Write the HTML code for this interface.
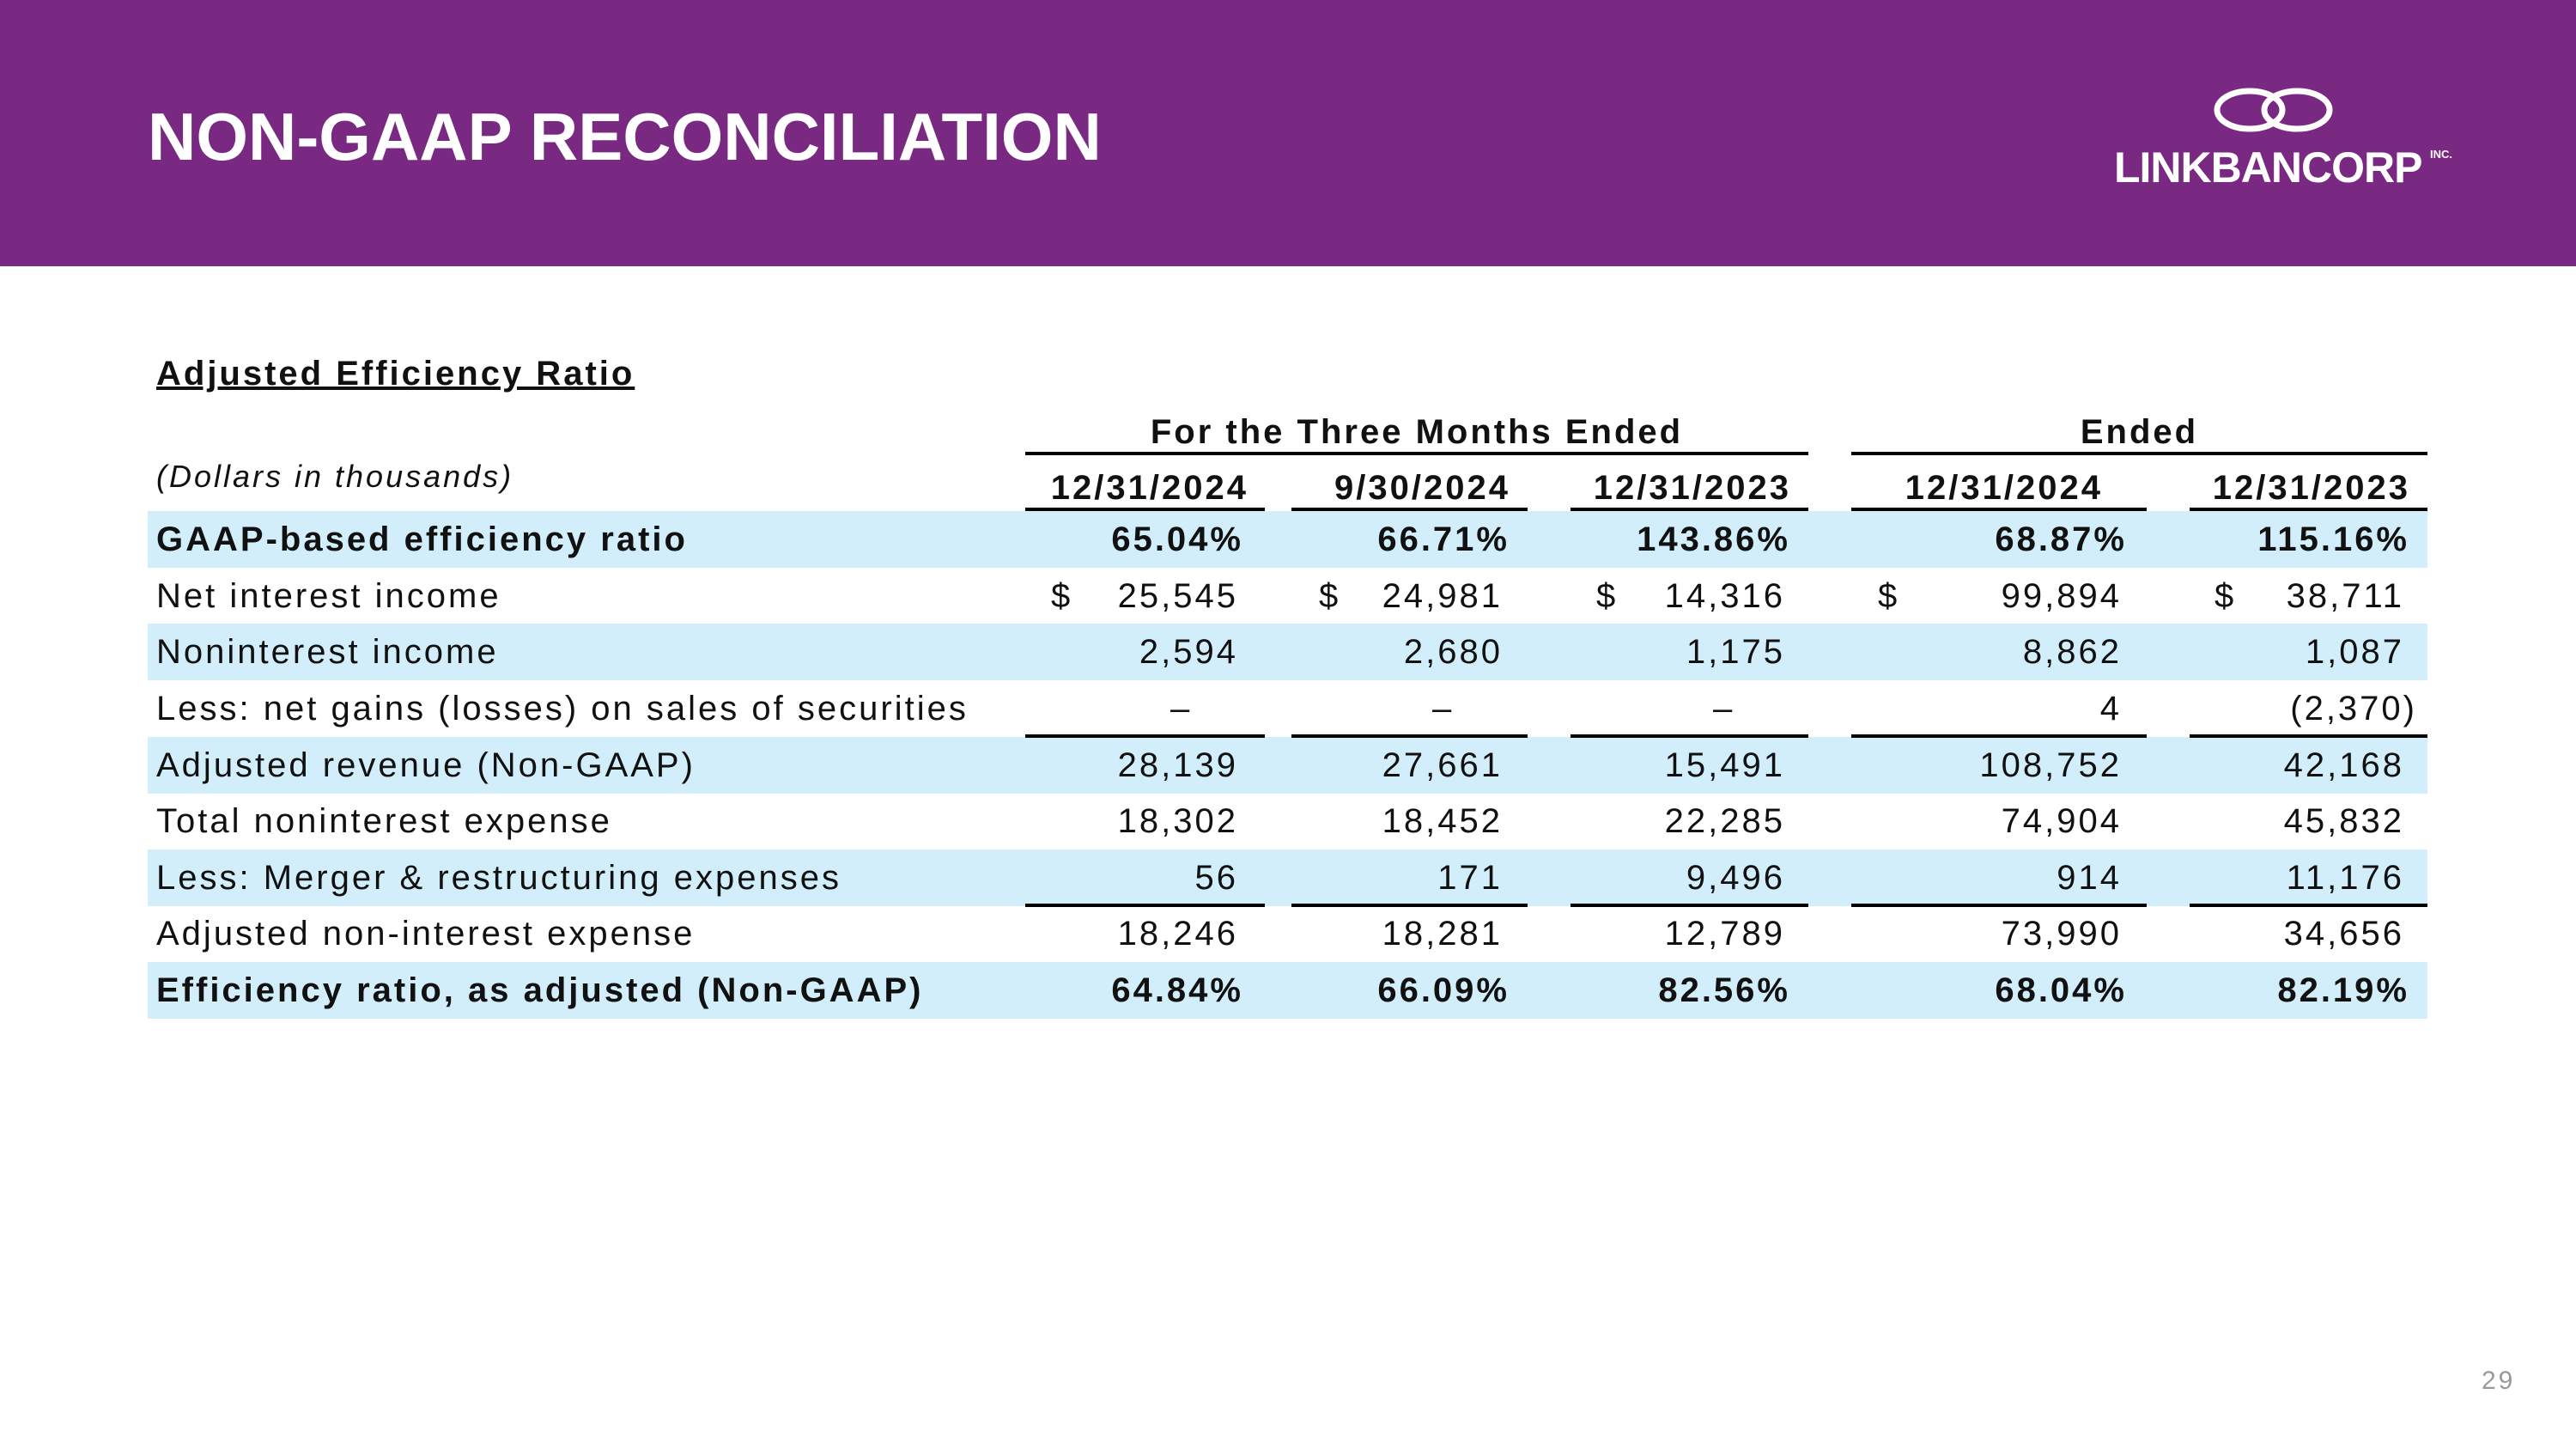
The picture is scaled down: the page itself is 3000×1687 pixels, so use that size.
<!DOCTYPE html>
<html><head><meta charset="utf-8"><style>
body{margin:0;width:3000px;height:1687px;background:#fff;position:relative;overflow:hidden;font-family:"Liberation Sans",Arial,sans-serif;}
.hdr{position:absolute;left:0;top:0;width:3000px;height:310px;background:#7A2982;}
.title{position:absolute;left:172px;top:114px;font-size:78px;font-weight:bold;color:#fff;}
.logo{position:absolute;left:2462px;top:166px;font-size:50px;font-weight:bold;color:#fff;letter-spacing:-1px;}
.inc{position:absolute;left:2830px;top:172px;font-size:13px;font-weight:bold;color:#fff;}
.a{position:absolute;white-space:nowrap;font-size:40px;color:#111;line-height:66px;letter-spacing:3px;}
.r{text-align:right;}
.row{position:absolute;left:172px;width:2655px;height:66px;}
.s{background:#D2EEFB;}
.ln{position:absolute;height:4px;background:#000;}
.b{font-weight:bold;}
</style></head><body>
<div class="hdr"></div>
<div class="title">NON-GAAP RECONCILIATION</div>
<svg style="position:absolute;left:2575px;top:98px" width="145" height="60" viewBox="0 0 145 60">
<g fill="none" stroke="#fff" stroke-width="7">
<ellipse cx="45" cy="30" rx="38" ry="22"/><ellipse cx="100" cy="30" rx="38" ry="22"/></g></svg>
<div class="logo">LINKBANCORP</div><div class="inc">INC.</div>

<div class="a b" style="left:182px;top:402px;text-decoration:underline;">Adjusted Efficiency Ratio</div>
<div class="a b" style="left:1194px;top:470px;width:912px;text-align:center;">For the Three Months Ended</div>
<div class="a b" style="left:2156px;top:470px;width:671px;text-align:center;">Ended</div>
<div class="ln" style="left:1194px;top:526px;width:912px;"></div>
<div class="ln" style="left:2156px;top:526px;width:671px;"></div>
<div class="a" style="left:182px;top:522px;font-style:italic;font-size:36px;">(Dollars in thousands)</div>
<div class="a b r" style="left:1194px;top:535px;width:260px;">12/31/2024</div>
<div class="a b r" style="left:1504px;top:535px;width:255px;">9/30/2024</div>
<div class="a b r" style="left:1829px;top:535px;width:257px;">12/31/2023</div>
<div class="a b r" style="left:2156px;top:535px;width:293px;">12/31/2024</div>
<div class="a b r" style="left:2550px;top:535px;width:257px;">12/31/2023</div>
<div class="ln" style="left:1194px;top:591px;width:279px;"></div>
<div class="ln" style="left:1504px;top:591px;width:275px;"></div>
<div class="ln" style="left:1829px;top:591px;width:277px;"></div>
<div class="ln" style="left:2156px;top:591px;width:344px;"></div>
<div class="ln" style="left:2550px;top:591px;width:277px;"></div>

<div class="row s" style="top:595px"></div>
<div class="row s" style="top:726px"></div>
<div class="row s" style="top:858px"></div>
<div class="row s" style="top:989px"></div>
<div class="row s" style="top:1120px"></div>

<div class="ln" style="left:1194px;top:855px;width:279px;"></div>
<div class="ln" style="left:1504px;top:855px;width:275px;"></div>
<div class="ln" style="left:1829px;top:855px;width:277px;"></div>
<div class="ln" style="left:2156px;top:855px;width:344px;"></div>
<div class="ln" style="left:2550px;top:855px;width:277px;"></div>
<div class="ln" style="left:1194px;top:1052px;width:279px;"></div>
<div class="ln" style="left:1504px;top:1052px;width:275px;"></div>
<div class="ln" style="left:1829px;top:1052px;width:277px;"></div>
<div class="ln" style="left:2156px;top:1052px;width:344px;"></div>
<div class="ln" style="left:2550px;top:1052px;width:277px;"></div>

<div class="a b" style="left:182px;top:595px">GAAP-based efficiency ratio</div>
<div class="a" style="left:182px;top:661px">Net interest income</div>
<div class="a" style="left:182px;top:726px">Noninterest income</div>
<div class="a" style="left:182px;top:792px">Less: net gains (losses) on sales of securities</div>
<div class="a" style="left:182px;top:858px">Adjusted revenue (Non-GAAP)</div>
<div class="a" style="left:182px;top:923px">Total noninterest expense</div>
<div class="a" style="left:182px;top:989px">Less: Merger &amp; restructuring expenses</div>
<div class="a" style="left:182px;top:1054px">Adjusted non-interest expense</div>
<div class="a b" style="left:182px;top:1120px">Efficiency ratio, as adjusted (Non-GAAP)</div>

<div class="a b r" style="left:1200px;top:595px;width:248px">65.04%</div>
<div class="a b r" style="left:1510px;top:595px;width:248px">66.71%</div>
<div class="a b r" style="left:1830px;top:595px;width:255px">143.86%</div>
<div class="a b r" style="left:2200px;top:595px;width:277px">68.87%</div>
<div class="a b r" style="left:2560px;top:595px;width:246px">115.16%</div>

<div class="a" style="left:1224px;top:661px">$</div><div class="a r" style="left:1250px;top:661px;width:192px">25,545</div>
<div class="a" style="left:1536px;top:661px">$</div><div class="a r" style="left:1560px;top:661px;width:190px">24,981</div>
<div class="a" style="left:1859px;top:661px">$</div><div class="a r" style="left:1890px;top:661px;width:189px">14,316</div>
<div class="a" style="left:2187px;top:661px">$</div><div class="a r" style="left:2220px;top:661px;width:251px">99,894</div>
<div class="a" style="left:2579px;top:661px">$</div><div class="a r" style="left:2610px;top:661px;width:190px">38,711</div>

<div class="a r" style="left:1250px;top:726px;width:192px">2,594</div>
<div class="a r" style="left:1560px;top:726px;width:190px">2,680</div>
<div class="a r" style="left:1890px;top:726px;width:189px">1,175</div>
<div class="a r" style="left:2220px;top:726px;width:251px">8,862</div>
<div class="a r" style="left:2610px;top:726px;width:190px">1,087</div>

<div class="a" style="left:1363px;top:792px">–</div>
<div class="a" style="left:1668px;top:792px">–</div>
<div class="a" style="left:1995px;top:792px">–</div>
<div class="a r" style="left:2220px;top:792px;width:251px">4</div>
<div class="a r" style="left:2610px;top:792px;width:205px">(2,370)</div>

<div class="a r" style="left:1250px;top:858px;width:192px">28,139</div>
<div class="a r" style="left:1560px;top:858px;width:190px">27,661</div>
<div class="a r" style="left:1890px;top:858px;width:189px">15,491</div>
<div class="a r" style="left:2220px;top:858px;width:251px">108,752</div>
<div class="a r" style="left:2610px;top:858px;width:190px">42,168</div>

<div class="a r" style="left:1250px;top:923px;width:192px">18,302</div>
<div class="a r" style="left:1560px;top:923px;width:190px">18,452</div>
<div class="a r" style="left:1890px;top:923px;width:189px">22,285</div>
<div class="a r" style="left:2220px;top:923px;width:251px">74,904</div>
<div class="a r" style="left:2610px;top:923px;width:190px">45,832</div>

<div class="a r" style="left:1250px;top:989px;width:192px">56</div>
<div class="a r" style="left:1560px;top:989px;width:190px">171</div>
<div class="a r" style="left:1890px;top:989px;width:189px">9,496</div>
<div class="a r" style="left:2220px;top:989px;width:251px">914</div>
<div class="a r" style="left:2610px;top:989px;width:190px">11,176</div>

<div class="a r" style="left:1250px;top:1054px;width:192px">18,246</div>
<div class="a r" style="left:1560px;top:1054px;width:190px">18,281</div>
<div class="a r" style="left:1890px;top:1054px;width:189px">12,789</div>
<div class="a r" style="left:2220px;top:1054px;width:251px">73,990</div>
<div class="a r" style="left:2610px;top:1054px;width:190px">34,656</div>

<div class="a b r" style="left:1200px;top:1120px;width:248px">64.84%</div>
<div class="a b r" style="left:1510px;top:1120px;width:248px">66.09%</div>
<div class="a b r" style="left:1830px;top:1120px;width:255px">82.56%</div>
<div class="a b r" style="left:2200px;top:1120px;width:277px">68.04%</div>
<div class="a b r" style="left:2560px;top:1120px;width:246px">82.19%</div>

<div class="a" style="left:2890px;top:1575px;font-size:30px;color:#999;">29</div>
</body></html>
